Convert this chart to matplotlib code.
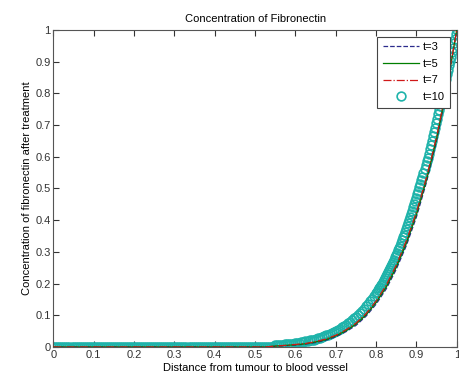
import numpy as np
import matplotlib
matplotlib.use("Agg")
import matplotlib.pyplot as plt

plt.rcParams['font.family'] = ['Liberation Sans', 'DejaVu Sans']

# t=10 (circles): flat part on a 0.005 grid, rise on 0.005 then 0.0025 grid
x_t10 = np.concatenate([np.linspace(0, 0.545, 110),
                        np.linspace(0.55, 0.795, 50),
                        np.linspace(0.80, 1.0, 81)])
y_t10 = [0.0] * 110 + [
    # 0.550 - 0.795
    0.005, 0.0055, 0.006, 0.0065, 0.007, 0.008, 0.009, 0.0095, 0.010, 0.011,
    0.012, 0.013, 0.014, 0.015, 0.016, 0.0175, 0.019, 0.0205, 0.022, 0.0235,
    0.025, 0.027, 0.029, 0.0315, 0.034, 0.0365, 0.039, 0.0415, 0.044, 0.047,
    0.050, 0.054, 0.058, 0.062, 0.066, 0.0705, 0.075, 0.080, 0.085, 0.090,
    0.095, 0.1015, 0.108, 0.1145, 0.121, 0.1285, 0.136, 0.144, 0.152, 0.161,
    # 0.800 - 1.000
    0.170, 0.175, 0.180, 0.185, 0.190, 0.195, 0.200, 0.2055, 0.211, 0.217,
    0.223, 0.229, 0.235, 0.2415, 0.248, 0.2545, 0.261, 0.268, 0.275, 0.2825,
    0.290, 0.2975, 0.305, 0.3125, 0.320, 0.3285, 0.337, 0.3455, 0.354, 0.363,
    0.372, 0.3815, 0.391, 0.401, 0.4105, 0.420, 0.430, 0.440, 0.450, 0.460,
    0.470, 0.481, 0.492, 0.503, 0.514, 0.5255, 0.537, 0.5485, 0.560, 0.5725,
    0.585, 0.5975, 0.610, 0.6235, 0.637, 0.6505, 0.664, 0.678, 0.692, 0.706,
    0.720, 0.734, 0.748, 0.761, 0.775, 0.789, 0.803, 0.818, 0.832, 0.846,
    0.860, 0.874, 0.888, 0.902, 0.916, 0.930, 0.944, 0.958, 0.972, 0.986,
    1.000]

# t=3,5,7 sampled on a 0.025 grid, zero up to x=0.525
x_lines = np.linspace(0, 1, 41)
y_t3 = [0.0] * 22 + [0.002, 0.004, 0.006, 0.009, 0.014, 0.021, 0.032, 0.048, 0.068,
                     0.097, 0.135, 0.183, 0.245, 0.320, 0.410, 0.520, 0.650, 0.810, 1.0]
y_t5 = [0.0] * 22 + [0.003, 0.005, 0.007, 0.010, 0.016, 0.023, 0.035, 0.051, 0.072,
                     0.101, 0.140, 0.189, 0.252, 0.328, 0.418, 0.528, 0.657, 0.815, 1.0]
y_t7 = [0.0] * 22 + [0.003, 0.005, 0.008, 0.011, 0.017, 0.025, 0.037, 0.054, 0.075,
                     0.105, 0.145, 0.195, 0.258, 0.335, 0.425, 0.535, 0.663, 0.820, 1.0]

ticks = np.arange(0, 11) / 10
tick_labels = ['0', '0.1', '0.2', '0.3', '0.4', '0.5', '0.6', '0.7', '0.8', '0.9', '1']

fig = plt.figure(figsize=(4.6, 3.83), dpi=100)
ax = fig.add_axes([0.116, 0.094, 0.877, 0.828])

ax.plot(x_lines, y_t3, '--', color='#2b2b8c', lw=0.9, label='t=3', zorder=3)
ax.plot(x_lines, y_t5, '-', color='#007f00', lw=0.9, label='t=5', zorder=3)
ax.plot(x_lines, y_t7, '-.', color='#d01818', lw=0.9, label='t=7', zorder=3)
ax.plot(x_t10, y_t10, 'o', mfc='none', mec='#1fb3aa', ms=6.3, mew=1.2,
        label='t=10', zorder=2)

ax.set_xlim(0, 1)
ax.set_ylim(0, 1)
ax.set_xticks(ticks)
ax.set_xticklabels(tick_labels)
ax.set_yticks(ticks)
ax.set_yticklabels(tick_labels)
ax.tick_params(direction='in', top=True, right=True, length=4, width=0.8,
               labelsize=8, colors='#333333', pad=2)
for s in ax.spines.values():
    s.set_color('#555555')
    s.set_linewidth(0.8)

ax.set_title('Concentration of Fibronectin', fontsize=8, pad=6)
ax.set_xlabel('Distance from tumour to blood vessel', fontsize=8, labelpad=2)
ax.set_ylabel('Concentration of fibronectin after treatment', fontsize=8, labelpad=2)

leg = ax.legend(loc='upper right', fontsize=8, handlelength=3.3, frameon=True,
                fancybox=False, borderaxespad=0.6, labelspacing=0.6,
                handletextpad=0.3, borderpad=0.5)
leg.get_frame().set_edgecolor('#444444')
leg.get_frame().set_linewidth(0.8)
leg.get_frame().set_alpha(1)

fig.savefig('out.png', dpi=100, facecolor='white')
